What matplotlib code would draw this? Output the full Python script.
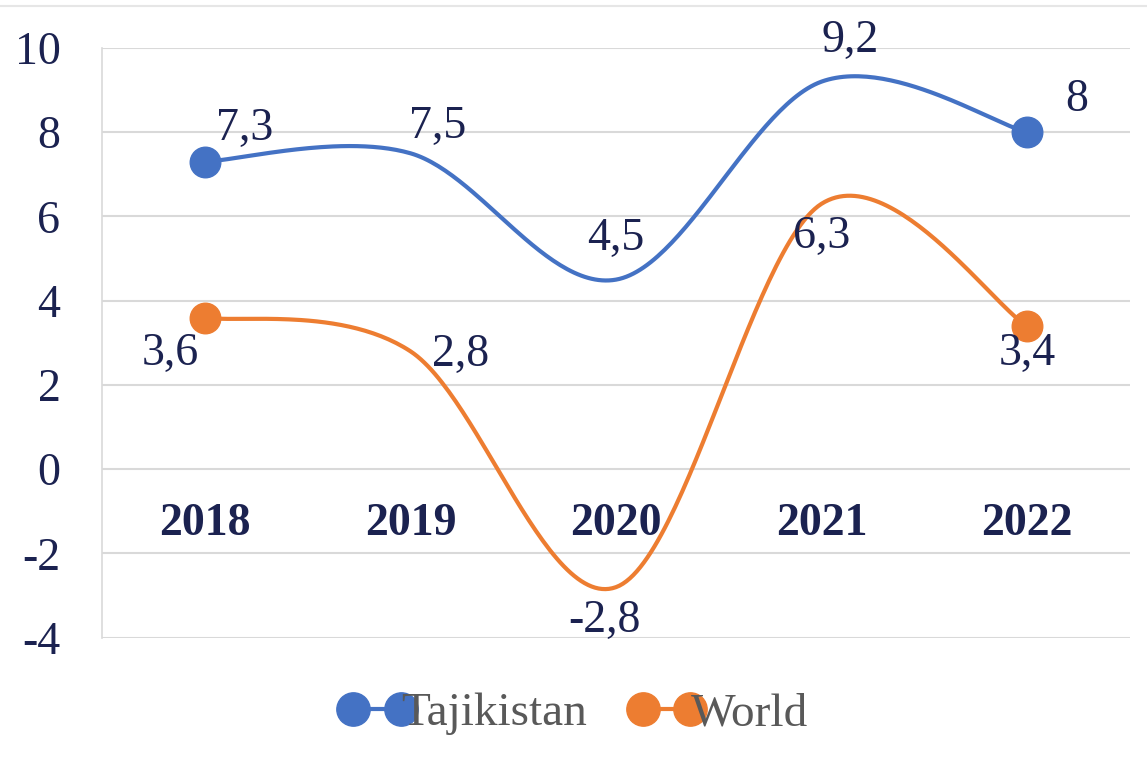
import matplotlib

matplotlib.use("Agg")
import matplotlib.pyplot as plt
import matplotlib.ticker as mticker
import numpy as np
from matplotlib.lines import Line2D

years = ["2018", "2019", "2020", "2021", "2022"]
tajikistan = [7.3, 7.5, 4.5, 9.2, 8.0]
world = [3.6, 2.8, -2.8, 6.3, 3.4]
taj_labels = ["7,3", "7,5", "4,5", "9,2", "8"]
world_labels = ["3,6", "2,8", "-2,8", "6,3", "3,4"]

BLUE = "#4472C4"
ORANGE = "#ED7D31"
NAVY = "#1B2250"
GRID = "#D9D9D9"

plt.rcParams["font.family"] = ["Liberation Serif", "DejaVu Serif"]
plt.rcParams["axes.unicode_minus"] = False


def smooth(y, n=60):
    # Excel style smoothed line: Catmull-Rom segments as cubic Beziers
    x = np.arange(len(y), dtype=float)
    p = np.column_stack([x, np.asarray(y, dtype=float)])
    pts = np.vstack([p[0], p, p[-1]])
    t = np.linspace(0, 1, n)[:, None]
    out = []
    for i in range(1, len(pts) - 2):
        p0, p1, p2, p3 = pts[i - 1], pts[i], pts[i + 1], pts[i + 2]
        c1 = p1 + (p2 - p0) / 6
        c2 = p2 - (p3 - p1) / 6
        seg = (1 - t) ** 3 * p1 + 3 * (1 - t) ** 2 * t * c1 + 3 * (1 - t) * t**2 * c2 + t**3 * p2
        out.append(seg if i == 1 else seg[1:])
    curve = np.vstack(out)
    return curve[:, 0], curve[:, 1]


fig = plt.figure(figsize=(11.47, 7.61), dpi=100)
ax = fig.add_axes([0.089, 0.162, 0.896, 0.775])

x = np.arange(len(years))
for vals, color in ((tajikistan, BLUE), (world, ORANGE)):
    sx, sy = smooth(vals)
    ax.plot(sx, sy, color=color, lw=3, solid_capstyle="round", zorder=3)
    ax.plot(x[[0, -1]], np.asarray(vals)[[0, -1]], "o", color=color, ms=22, zorder=4)

# data labels (offsets in pixels)
taj_off = [(40, 33), (27, 27), (0, 41), (29, 41), (50, 32)]
world_off = [(-35, -36), (50, -3), (-12, -34), (0, -33), (0, -28)]
for i in range(len(years)):
    ax.annotate(taj_labels[i], (x[i], tajikistan[i]), xytext=taj_off[i], textcoords="offset pixels",
                ha="center", va="center", fontsize=33, color=NAVY, zorder=5)
    ax.annotate(world_labels[i], (x[i], world[i]), xytext=world_off[i], textcoords="offset pixels",
                ha="center", va="center", fontsize=33, color=NAVY, zorder=5)

# category labels sit just under the zero line
for i, yr in enumerate(years):
    ax.text(x[i], -1.3, yr, ha="center", va="center", fontsize=33, fontweight="bold", color=NAVY, zorder=2)

ax.set_xlim(-0.5, len(years) - 0.5)
ax.set_ylim(-4, 10)
ax.set_yticks(range(-4, 11, 2))
ax.yaxis.set_major_formatter(mticker.FuncFormatter(lambda v, _p: f"{v:.0f}"))
ax.set_xticks([])
ax.grid(axis="y", color=GRID, lw=1.5)
ax.set_axisbelow(True)
for side in ("top", "right", "bottom"):
    ax.spines[side].set_visible(False)
ax.spines["left"].set_color(GRID)
ax.spines["left"].set_linewidth(1.2)
ax.tick_params(axis="y", length=0, pad=30, labelsize=33, labelcolor=NAVY)

handles = [
    Line2D([], [], color=BLUE, lw=3, marker="o", ms=24),
    Line2D([], [], color=ORANGE, lw=3, marker="o", ms=24),
]
leg = fig.legend(handles, ["Tajikistan", "World"], loc="center", bbox_to_anchor=(0.5, 0.062), ncol=2,
                 frameon=False, fontsize=34, numpoints=2, handlelength=1.6, handletextpad=-0.3, columnspacing=0.9)
for txt in leg.get_texts():
    txt.set_color("#595959")

fig.add_artist(Line2D([0, 1], [0.992, 0.992], color="#E6E6E6", lw=1.5))

fig.savefig("out.png", dpi=100)
